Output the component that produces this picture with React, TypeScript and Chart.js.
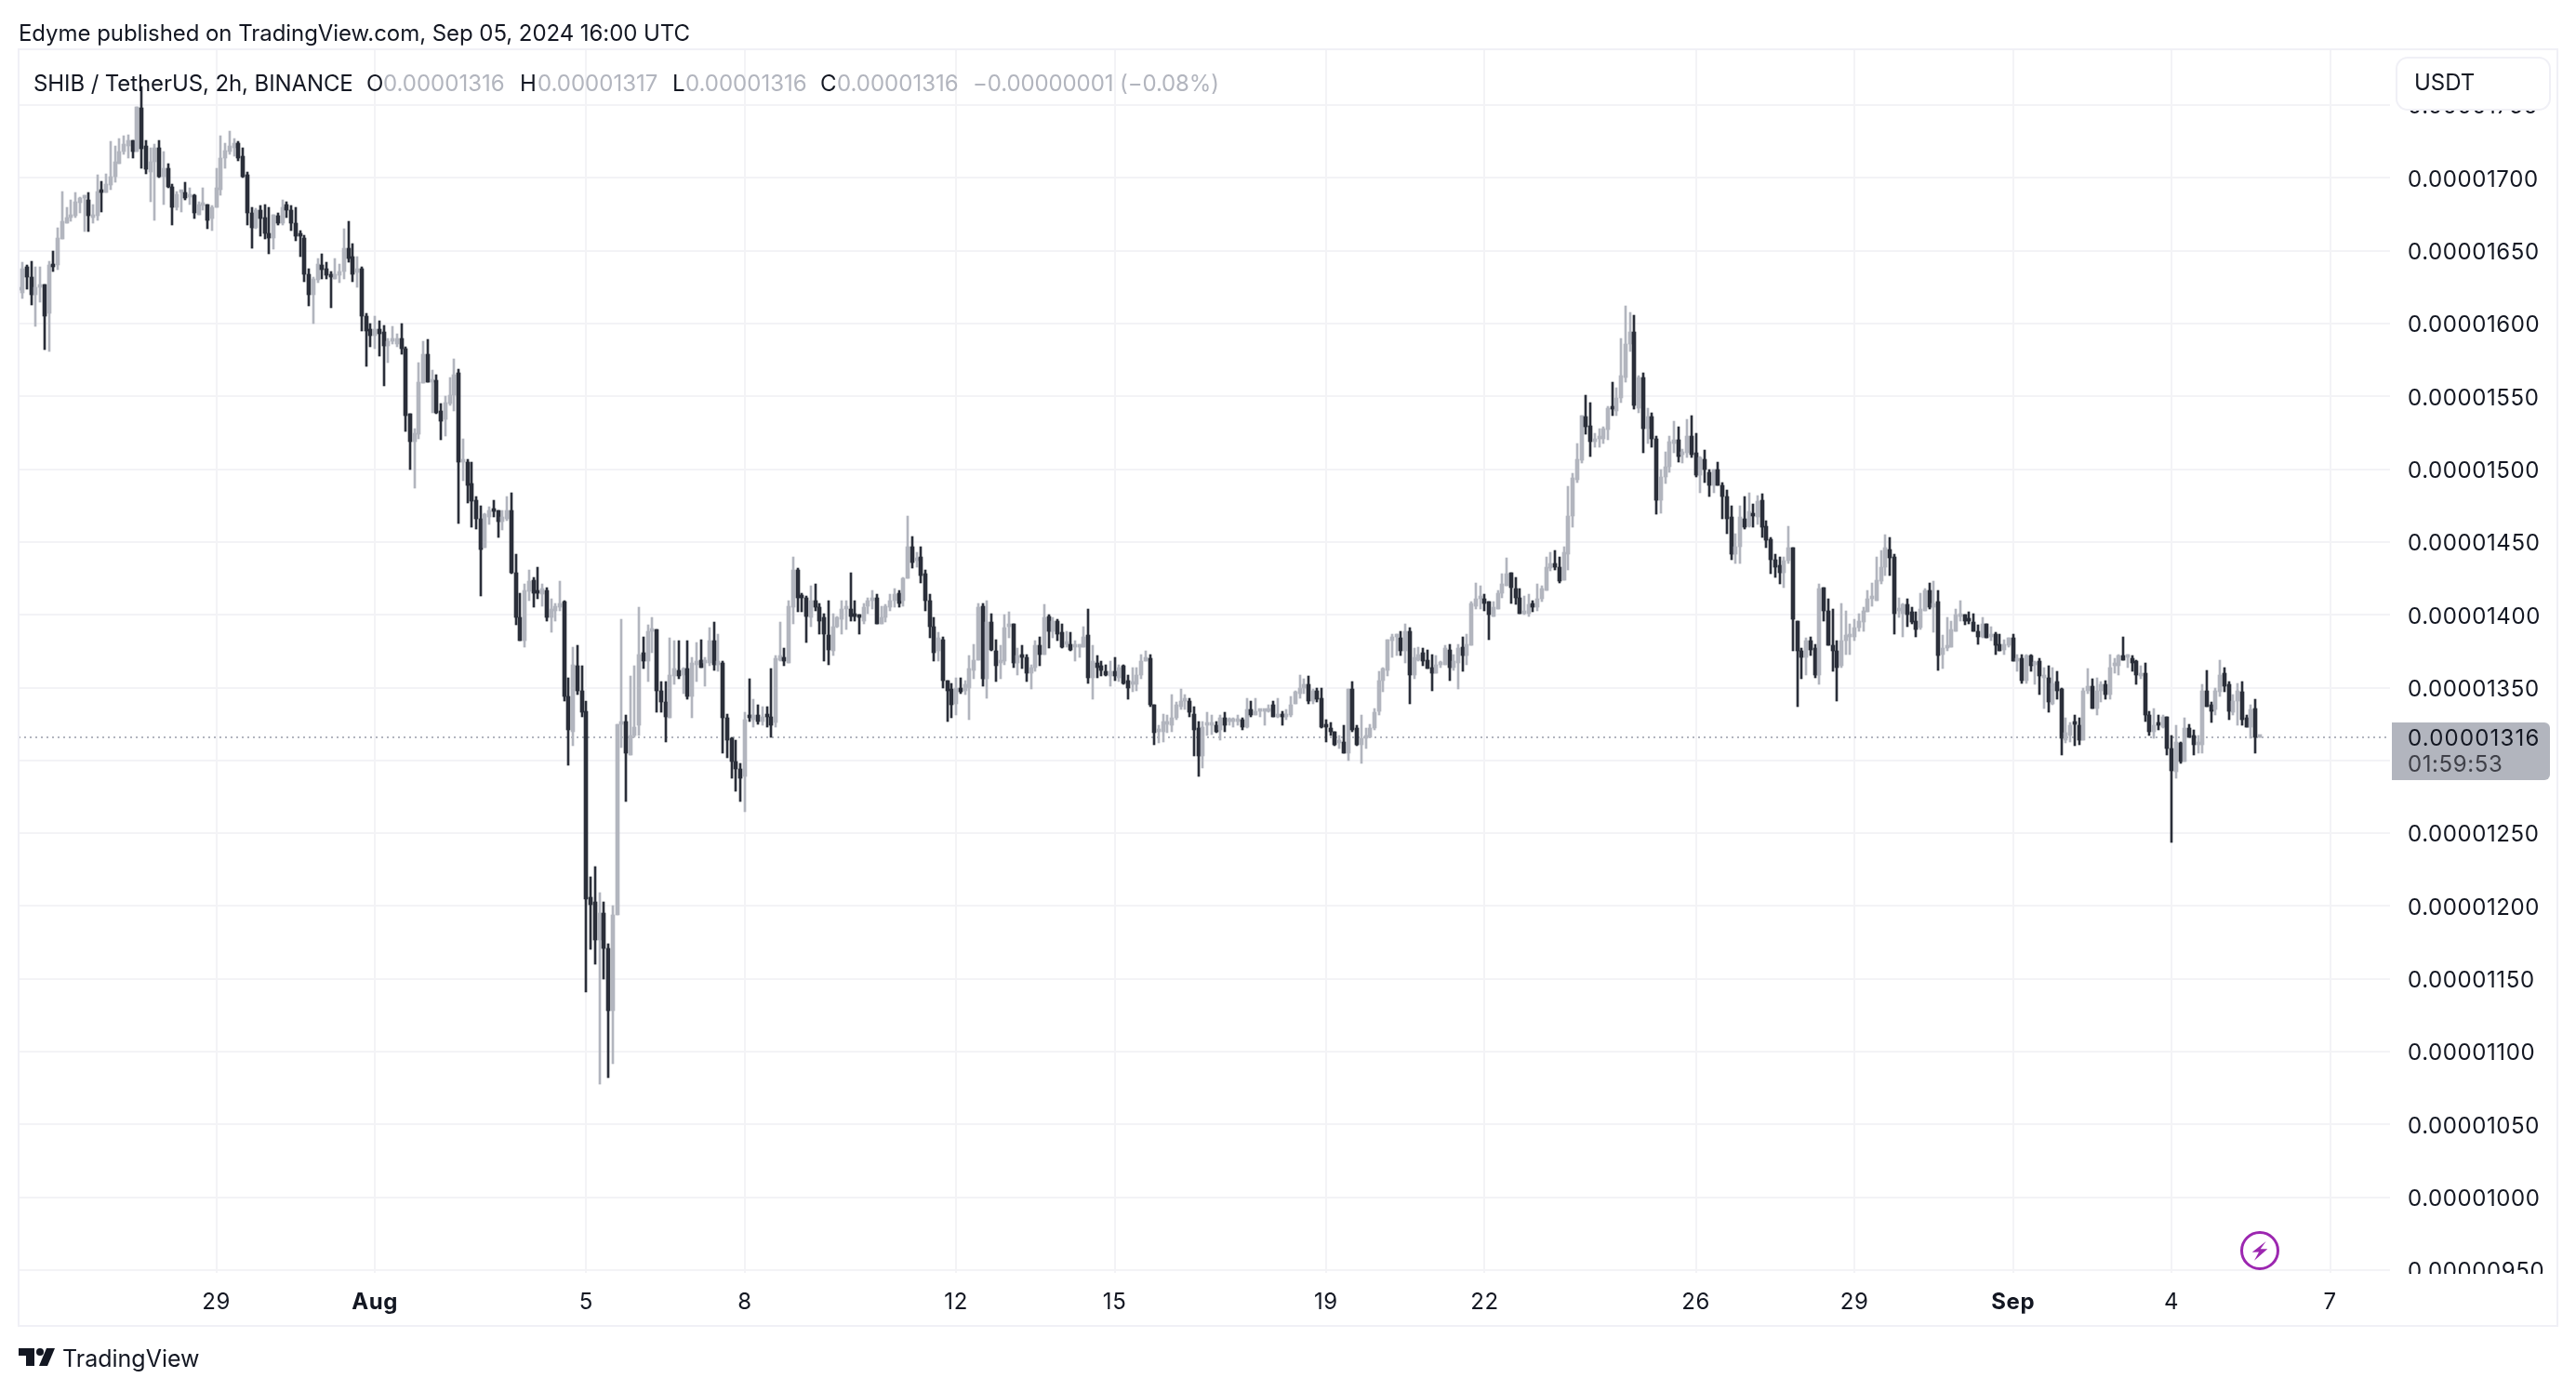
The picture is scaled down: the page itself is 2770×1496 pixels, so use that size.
import React, { useEffect, useRef } from "react";
import { Chart, registerables } from "chart.js";

Chart.register(...registerables);

// Prices are in units of 0.00000001 USDT; each candle is [open, high, low, close].
type Candle = [number, number, number, number];

const jul25to28: Candle[] = [
  [1623,1624,1623,1624],[1621,1642,1617,1638],[1639,1640,1624,1632],[1632,1643,1613,1620],[1620,1639,1598,1625],[1625,1639,1615,1626],
  [1627,1627,1582,1605],[1607,1643,1581,1640],[1641,1650,1636,1639],[1640,1666,1637,1659],[1658,1691,1658,1670],[1669,1680,1669,1673],
  [1673,1685,1670,1674],[1674,1690,1673,1684],[1683,1687,1676,1686],[1686,1688,1663,1686],[1685,1690,1663,1674],[1673,1682,1669,1675],
  [1674,1702,1671,1691],[1692,1698,1677,1690],[1690,1703,1690,1696],[1695,1725,1692,1701],[1701,1722,1697,1711],[1710,1727,1710,1718],
  [1718,1729,1716,1723],[1722,1730,1714,1726],[1726,1726,1714,1718],[1718,1749,1718,1749],[1748,1763,1707,1720],[1722,1726,1703,1706],
  [1704,1721,1684,1711],[1711,1723,1671,1721],[1721,1726,1700,1701],[1701,1718,1682,1707],[1707,1710,1693,1694],[1694,1696,1668,1680],
];
const jul28toAug1: Candle[] = [
  [1680,1691,1678,1689],[1690,1691,1677,1690],[1690,1697,1685,1686],[1687,1693,1682,1688],[1688,1689,1672,1676],[1675,1684,1675,1682],
  [1681,1693,1678,1682],[1682,1682,1665,1671],[1672,1681,1664,1680],[1680,1707,1680,1693],[1692,1729,1688,1714],[1714,1724,1707,1719],
  [1718,1732,1716,1722],[1721,1727,1715,1724],[1724,1725,1712,1714],[1715,1721,1700,1701],[1702,1704,1668,1676],[1676,1680,1652,1666],
  [1666,1679,1665,1678],[1678,1681,1660,1672],[1673,1682,1658,1662],[1662,1680,1648,1659],[1659,1675,1651,1675],[1674,1676,1668,1669],
  [1669,1685,1668,1680],[1682,1684,1673,1678],[1678,1681,1664,1669],[1669,1680,1657,1660],[1661,1664,1646,1660],[1659,1661,1629,1634],
  [1634,1638,1612,1620],[1620,1632,1600,1631],[1630,1645,1628,1641],[1640,1648,1631,1637],[1638,1642,1631,1633],[1633,1636,1611,1632],
  [1631,1645,1631,1634],[1633,1641,1628,1636],[1636,1665,1631,1652],[1652,1670,1642,1645],[1646,1655,1629,1634],[1635,1646,1625,1638],
  [1638,1639,1595,1605],[1605,1607,1571,1595],[1596,1600,1584,1592],
];
const aug1to5: Candle[] = [
  [1592,1605,1583,1596],[1596,1602,1578,1593],[1594,1599,1557,1585],[1585,1590,1573,1588],[1588,1598,1586,1589],[1586,1593,1584,1590],
  [1590,1600,1579,1583],[1583,1584,1526,1537],[1538,1538,1500,1519],[1519,1528,1487,1525],[1524,1573,1521,1560],[1559,1588,1559,1579],
  [1579,1589,1560,1560],[1560,1568,1539,1561],[1561,1565,1538,1539],[1540,1545,1520,1533],[1534,1550,1523,1546],[1545,1563,1544,1551],
  [1551,1576,1540,1565],[1566,1569,1463,1505],[1505,1521,1492,1506],[1505,1507,1477,1489],[1490,1505,1460,1478],[1479,1481,1459,1466],
  [1466,1475,1413,1445],[1446,1470,1446,1469],[1467,1474,1462,1472],[1472,1479,1467,1471],[1472,1472,1453,1464],[1464,1472,1458,1467],
  [1466,1481,1465,1472],[1472,1484,1428,1429],[1429,1442,1393,1398],[1398,1415,1382,1382],[1382,1421,1378,1417],[1416,1431,1410,1423],
  [1424,1426,1405,1415],[1416,1433,1411,1415],[1414,1421,1406,1418],[1417,1419,1396,1398],[1398,1411,1388,1404],[1403,1408,1396,1406],
  [1405,1423,1403,1408],[1409,1410,1341,1344],[1344,1357,1297,1321],[1320,1378,1310,1366],[1365,1379,1345,1348],[1348,1365,1330,1333],
];
const aug5to8: Candle[] = [
  [1334,1341,1141,1205],[1206,1220,1170,1201],[1203,1227,1160,1177],[1177,1209,1078,1195],[1195,1203,1150,1171],[1171,1174,1082,1128],
  [1128,1200,1092,1194],[1194,1325,1194,1325],[1325,1397,1309,1327],[1327,1331,1272,1305],[1304,1358,1304,1317],[1317,1365,1316,1323],
  [1324,1405,1317,1373],[1374,1385,1363,1368],[1368,1393,1354,1389],[1389,1398,1374,1390],[1390,1390,1333,1348],[1348,1354,1333,1340],
  [1340,1354,1313,1330],[1329,1384,1329,1359],[1358,1382,1352,1363],[1362,1382,1356,1358],[1359,1364,1346,1363],[1363,1382,1342,1344],
  [1344,1371,1329,1367],[1366,1381,1354,1368],[1369,1383,1364,1364],[1367,1371,1351,1368],[1367,1391,1365,1382],[1382,1395,1362,1366],
  [1366,1387,1361,1368],[1367,1368,1305,1329],[1329,1332,1302,1314],[1315,1316,1288,1299],[1299,1314,1279,1294],[1294,1298,1272,1288],
  [1289,1333,1265,1328],
];
const aug8to12: Candle[] = [
  [1331,1356,1327,1329],[1328,1342,1323,1331],[1331,1338,1325,1327],[1327,1337,1324,1330],[1331,1337,1323,1330],[1330,1363,1316,1324],
  [1326,1372,1323,1370],[1369,1395,1368,1372],[1371,1377,1365,1368],[1367,1410,1367,1406],[1405,1440,1394,1431],[1431,1432,1402,1412],
  [1413,1415,1402,1412],[1412,1413,1381,1399],[1398,1420,1392,1410],[1410,1421,1403,1405],[1405,1408,1387,1396],[1398,1401,1368,1387],
  [1386,1410,1366,1376],[1375,1401,1372,1392],[1392,1399,1391,1398],[1397,1410,1387,1404],[1404,1410,1390,1404],[1404,1429,1396,1399],
  [1400,1410,1396,1399],[1399,1400,1387,1398],[1396,1408,1394,1405],[1406,1412,1401,1410],[1410,1417,1404,1412],[1412,1414,1394,1394],
  [1394,1406,1394,1398],[1398,1407,1395,1406],[1405,1414,1403,1410],[1410,1418,1405,1414],[1415,1417,1405,1408],[1410,1426,1406,1425],
  [1425,1468,1425,1447],[1447,1454,1432,1436],[1437,1443,1433,1439],[1440,1447,1422,1427],[1428,1431,1403,1410],[1410,1414,1384,1392],
  [1392,1398,1368,1374],[1375,1388,1368,1384],[1383,1385,1350,1355],[1355,1355,1327,1348],[1349,1353,1329,1338],
];
const aug12to15: Candle[] = [
  [1339,1357,1331,1350],[1350,1357,1346,1347],[1348,1355,1345,1352],[1350,1372,1328,1363],[1362,1380,1356,1369],[1369,1408,1369,1405],
  [1406,1408,1351,1356],[1356,1410,1343,1395],[1395,1401,1375,1376],[1375,1383,1354,1365],[1367,1379,1356,1368],[1368,1400,1366,1391],
  [1392,1402,1384,1393],[1394,1394,1364,1367],[1367,1377,1359,1372],[1372,1379,1363,1371],[1371,1373,1354,1360],[1360,1366,1349,1364],
  [1364,1382,1361,1379],[1379,1385,1365,1373],[1373,1407,1373,1398],[1399,1400,1377,1389],[1389,1398,1384,1396],[1396,1397,1382,1387],
  [1388,1394,1377,1378],[1380,1389,1378,1381],[1380,1388,1375,1376],[1378,1382,1368,1379],[1378,1380,1371,1379],[1378,1392,1378,1385],
  [1386,1404,1353,1357],[1357,1379,1342,1368],[1367,1372,1357,1364],[1365,1368,1358,1362],[1361,1366,1358,1359],[1358,1368,1351,1361],
];
const aug15to19: Candle[] = [
  [1361,1371,1355,1358],[1357,1366,1354,1364],[1365,1366,1352,1353],[1355,1359,1342,1350],[1352,1364,1347,1353],[1352,1364,1348,1359],
  [1359,1373,1356,1368],[1368,1375,1368,1371],[1370,1373,1337,1338],[1338,1338,1311,1319],[1320,1324,1312,1321],[1320,1332,1313,1327],
  [1325,1331,1319,1326],[1324,1345,1320,1329],[1329,1340,1328,1338],[1337,1349,1335,1341],[1341,1345,1335,1342],[1341,1343,1330,1333],
  [1332,1337,1303,1321],[1322,1327,1289,1303],[1303,1327,1295,1323],[1324,1333,1317,1325],[1324,1331,1318,1325],[1324,1327,1319,1320],
  [1321,1331,1314,1329],[1329,1333,1320,1324],[1327,1329,1324,1328],[1327,1329,1323,1328],[1327,1331,1324,1328],[1328,1329,1321,1323],
  [1323,1343,1322,1335],[1335,1341,1330,1331],[1331,1343,1331,1334],[1334,1335,1330,1335],[1334,1335,1324,1335],[1334,1338,1333,1336],
  [1338,1341,1330,1330],[1330,1343,1329,1332],[1331,1334,1324,1330],[1330,1335,1328,1331],[1331,1344,1330,1338],[1339,1348,1339,1347],
  [1346,1359,1343,1350],[1350,1356,1346,1352],[1352,1358,1339,1341],[1341,1349,1339,1348],[1348,1350,1340,1342],[1343,1350,1322,1323],
];
const aug19to22: Candle[] = [
  [1324,1328,1313,1323],[1322,1326,1317,1320],[1320,1320,1310,1311],[1312,1317,1308,1313],[1313,1324,1305,1305],[1305,1349,1300,1349],
  [1349,1354,1320,1321],[1322,1324,1310,1311],[1311,1331,1298,1315],[1315,1322,1308,1316],[1316,1325,1316,1322],[1322,1336,1321,1333],
  [1334,1361,1331,1355],[1355,1364,1347,1363],[1362,1383,1358,1383],[1382,1387,1371,1385],[1385,1387,1372,1386],[1384,1389,1372,1375],
  [1375,1394,1367,1389],[1389,1391,1339,1359],[1359,1377,1356,1371],[1369,1378,1368,1373],[1374,1377,1365,1368],[1369,1376,1363,1363],
  [1364,1373,1348,1360],[1360,1372,1360,1366],[1366,1368,1364,1367],[1366,1379,1366,1377],[1376,1380,1355,1364],[1364,1373,1362,1368],
  [1367,1380,1349,1377],[1378,1385,1361,1372],[1372,1387,1366,1380],[1379,1409,1379,1408],[1406,1422,1404,1411],[1411,1420,1404,1413],
];
const aug22to26: Candle[] = [
  [1411,1414,1403,1408],[1409,1409,1383,1400],[1399,1409,1399,1405],[1404,1417,1404,1415],[1415,1428,1412,1421],[1420,1439,1420,1428],
  [1429,1429,1408,1419],[1418,1426,1407,1412],[1412,1418,1401,1401],[1401,1413,1400,1402],[1401,1414,1399,1407],[1408,1410,1402,1405],
  [1405,1421,1403,1411],[1411,1420,1409,1418],[1417,1440,1417,1433],[1432,1443,1430,1435],[1435,1444,1431,1433],[1433,1440,1422,1423],
  [1424,1447,1424,1443],[1442,1488,1431,1468],[1468,1497,1460,1494],[1493,1518,1491,1507],[1506,1537,1504,1537],[1536,1551,1524,1529],
  [1530,1546,1509,1519],[1519,1525,1515,1521],[1521,1528,1515,1522],[1521,1529,1518,1528],[1527,1543,1520,1542],[1543,1560,1537,1541],
  [1540,1556,1537,1549],[1549,1590,1546,1564],[1563,1612,1560,1586],[1586,1608,1581,1594],[1594,1606,1541,1544],[1542,1564,1539,1563],
  [1563,1566,1511,1528],[1528,1542,1518,1536],[1536,1539,1515,1521],[1521,1523,1469,1479],[1479,1500,1470,1495],[1495,1512,1490,1502],
  [1502,1523,1498,1519],[1518,1533,1511,1520],[1520,1529,1505,1509],[1510,1514,1504,1511],[1511,1534,1508,1523],[1523,1537,1508,1510],
];
const aug26to29: Candle[] = [
  [1511,1525,1495,1496],[1496,1509,1484,1508],[1507,1513,1491,1500],[1498,1500,1481,1489],[1489,1500,1484,1500],[1500,1505,1489,1489],
  [1489,1491,1466,1481],[1481,1486,1456,1466],[1467,1475,1438,1442],[1442,1456,1435,1447],[1447,1475,1435,1467],[1466,1481,1459,1460],
  [1461,1484,1460,1471],[1470,1476,1460,1468],[1467,1482,1462,1478],[1479,1483,1453,1460],[1461,1465,1446,1451],[1452,1453,1428,1438],
  [1438,1442,1426,1433],[1434,1440,1421,1429],[1429,1440,1419,1437],[1437,1461,1435,1446],[1446,1446,1375,1397],[1396,1396,1337,1375],
  [1375,1377,1356,1371],[1371,1384,1359,1382],[1382,1385,1372,1376],[1377,1380,1357,1359],[1359,1421,1352,1418],[1419,1419,1396,1403],
  [1403,1411,1379,1379],[1379,1404,1361,1375],[1375,1382,1341,1364],[1365,1408,1364,1382],[1382,1403,1373,1386],[1385,1394,1373,1386],
];
const aug29toSep1: Candle[] = [
  [1385,1397,1382,1391],[1391,1401,1389,1396],[1395,1405,1389,1403],[1402,1417,1402,1411],[1411,1422,1406,1413],[1410,1440,1410,1424],
  [1423,1444,1421,1433],[1433,1455,1427,1446],[1445,1453,1427,1439],[1440,1442,1387,1401],[1403,1412,1398,1404],[1401,1408,1385,1407],
  [1407,1411,1392,1400],[1402,1405,1394,1395],[1396,1402,1385,1390],[1391,1415,1390,1404],[1403,1418,1403,1417],[1417,1422,1404,1405],
  [1405,1423,1388,1408],[1409,1417,1362,1372],[1373,1386,1363,1377],[1377,1398,1375,1379],[1378,1396,1378,1390],[1389,1404,1389,1400],
  [1399,1410,1396,1400],[1400,1400,1393,1396],[1397,1402,1394,1396],[1395,1401,1389,1389],[1389,1393,1380,1385],[1385,1398,1384,1394],
  [1394,1394,1384,1384],[1385,1392,1382,1386],[1387,1388,1373,1379],[1380,1387,1375,1375],[1376,1383,1373,1380],[1379,1384,1378,1384],
];
const sep1to5: Candle[] = [
  [1384,1387,1368,1368],[1368,1373,1361,1369],[1370,1373,1353,1355],[1355,1373,1353,1372],[1372,1373,1361,1365],[1366,1368,1352,1367],
  [1368,1370,1345,1358],[1357,1364,1336,1358],[1357,1365,1333,1340],[1339,1364,1338,1353],[1354,1361,1342,1348],[1349,1350,1304,1315],
  [1314,1329,1312,1319],[1317,1326,1313,1324],[1326,1331,1310,1325],[1324,1329,1311,1314],[1314,1350,1314,1348],[1348,1363,1346,1351],
  [1351,1356,1336,1336],[1336,1357,1331,1348],[1348,1354,1340,1352],[1352,1355,1342,1345],[1345,1373,1342,1364],[1365,1370,1360,1367],
  [1365,1373,1359,1372],[1372,1385,1369,1369],[1371,1373,1364,1372],[1370,1372,1361,1367],[1368,1369,1352,1359],[1358,1365,1356,1360],
  [1360,1367,1327,1331],[1331,1334,1317,1320],[1320,1336,1315,1324],[1325,1331,1321,1324],[1323,1331,1322,1330],[1330,1330,1304,1308],
  [1308,1317,1244,1293],[1292,1324,1288,1313],[1312,1313,1298,1299],[1299,1329,1299,1322],[1322,1325,1316,1316],[1317,1321,1304,1311],
  [1311,1317,1305,1312],[1311,1352,1305,1348],[1348,1362,1337,1337],[1338,1340,1326,1334],[1335,1350,1331,1348],[1347,1369,1344,1359],
  [1360,1364,1347,1351],[1352,1354,1328,1334],[1333,1345,1331,1341],[1341,1353,1324,1348],[1347,1354,1324,1328],[1329,1331,1323,1323],
  [1323,1338,1315,1335],[1336,1342,1305,1316],[1316,1317,1316,1316],
];

const candles: Candle[] = [
  ...jul25to28, ...jul28toAug1, ...aug1to5, ...aug5to8, ...aug8to12, ...aug12to15,
  ...aug15to19, ...aug19to22, ...aug22to26, ...aug26to29, ...aug29toSep1, ...sep1to5,
];

// Bar index (2h bars from the first candle) at which each date label sits.
const dateTickIndex = [45, 81, 129, 165, 213, 249, 297, 333, 381, 417, 453, 489, 525];
const dateTickLabels = ["29", "Aug", "5", "8", "12", "15", "19", "22", "26", "29", "Sep", "4", "7"];
const boldDateLabels = ["Aug", "Sep"];
const priceTicks = [950, 1000, 1050, 1100, 1150, 1200, 1250, 1300, 1350, 1400, 1450, 1500, 1550, 1600, 1650, 1700, 1750];
const lastPrice = 1316;
const countdown = "01:59:53";

const UP = "#b2b5be";
const DOWN = "#2a2e39";
const GRID = "#f3f3f6";
const FRAME = "#f0f0f6";
const TEXT = "#131722";
const FONT = "Inter, 'Noto Sans', sans-serif";

const fmt = (v: number) => (v / 1e8).toFixed(8);

const barColors = candles.map((c) => (c[3] >= c[0] ? UP : DOWN));

const snapBars = {
  id: "snapBars",
  afterDatasetsUpdate(chart: any) {
    chart.data.datasets.forEach((_: any, i: number) => {
      chart.getDatasetMeta(i).data.forEach((el: any) => {
        el.x = Math.round(el.x);
        el.y = Math.round(el.y);
        el.base = Math.round(el.base);
      });
    });
  },
};

const priceLine = {
  id: "priceLine",
  beforeDraw(chart: any) {
    chart.ctx.letterSpacing = "0.6px";
  },
  beforeDatasetsDraw(chart: any) {
    const { ctx, chartArea, scales } = chart;
    const y = Math.round(scales.y.getPixelForValue(lastPrice));
    ctx.save();
    ctx.strokeStyle = UP;
    ctx.lineWidth = 2;
    ctx.setLineDash([2, 4]);
    ctx.beginPath();
    ctx.moveTo(chartArea.left, y);
    ctx.lineTo(chartArea.right, y);
    ctx.stroke();
    ctx.restore();
  },
  afterDraw(chart: any) {
    const { ctx, scales } = chart;
    const y = Math.round(scales.y.getPixelForValue(lastPrice));
    ctx.save();
    // clip the cut-off lowest axis label
    ctx.fillStyle = "#ffffff";
    ctx.fillRect(2572, 1370, 176, 54);
    // frame
    ctx.strokeStyle = FRAME;
    ctx.lineWidth = 2;
    ctx.strokeRect(20, 53, 2730, 1373);
    // currency box
    ctx.fillStyle = "#ffffff";
    ctx.beginPath();
    ctx.roundRect(2577, 62, 165, 56, 12);
    ctx.fill();
    ctx.stroke();
    // last price tag
    ctx.fillStyle = UP;
    ctx.beginPath();
    ctx.roundRect(2572, y - 16, 170, 62, [0, 6, 6, 0]);
    ctx.fill();
    ctx.textBaseline = "middle";
    ctx.textAlign = "left";
    ctx.font = `24px ${FONT}`;
    ctx.fillStyle = TEXT;
    ctx.letterSpacing = "1.2px";
    ctx.fillText(fmt(lastPrice), 2589, y + 2);
    ctx.letterSpacing = "0.6px";
    ctx.fillStyle = "#3f4048";
    ctx.fillText(countdown, 2589, y + 30);
    ctx.restore();
  },
};

const abs = (left: number, top: number, extra: React.CSSProperties = {}): React.CSSProperties => ({
  position: "absolute",
  left,
  top,
  whiteSpace: "nowrap",
  fontFamily: FONT,
  color: TEXT,
  fontSize: 24,
  lineHeight: "30px",
  ...extra,
});

const legendItems: [number, string, string][] = [
  [394, "O", TEXT],
  [412, "0.00001316", UP],
  [559, "H", TEXT],
  [578, "0.00001317", UP],
  [723, "L", TEXT],
  [737, "0.00001316", UP],
  [882, "C", TEXT],
  [900, "0.00001316", UP],
  [1046, "\u22120.00000001 (\u22120.08%)", UP],
];

export default function App() {
  const ref = useRef<HTMLCanvasElement>(null);
  useEffect(() => {
    const chart = new Chart(ref.current as HTMLCanvasElement, {
      type: "bar",
      data: {
        datasets: [
          {
            label: "Body",
            data: candles.map((c, i) => ({ x: i, y: [Math.min(c[0], c[3]), Math.max(c[0], c[3])] })),
            backgroundColor: barColors,
            barThickness: 4,
            minBarLength: 3,
            grouped: false,
          },
          {
            label: "Wick",
            data: candles.map((c, i) => ({ x: i, y: [c[2], c[1]] })),
            backgroundColor: barColors,
            barThickness: 2,
            grouped: false,
          },
        ] as any,
      },
      options: {
        responsive: false,
        animation: false,
        layout: { padding: { left: 20, top: 54, right: 20, bottom: 70 } },
        plugins: { legend: { display: false }, tooltip: { enabled: false }, title: { display: false } },
        scales: {
          x: {
            type: "linear",
            min: 0.1,
            max: 538.6,
            offset: false,
            grid: { color: GRID, lineWidth: 2, offset: false, tickLength: 3, tickColor: GRID },
            border: { display: false },
            afterBuildTicks: (s: any) => {
              s.ticks = dateTickIndex.map((value) => ({ value }));
            },
            afterFit: (s: any) => {
              s.height = 60;
            },
            ticks: {
              autoSkip: false,
              maxRotation: 0,
              minRotation: 0,
              padding: 17,
              color: TEXT,
              callback: (v: any) => dateTickLabels[dateTickIndex.indexOf(Number(v))],
              font: (ctx: any) => {
                const idx = dateTickIndex.indexOf(ctx.tick?.value);
                return {
                  family: FONT,
                  size: 24,
                  weight: boldDateLabels.includes(dateTickLabels[idx]) ? "bold" : "normal",
                };
              },
            },
          },
          y: {
            type: "linear",
            position: "right",
            min: 950,
            max: 1787.8,
            grid: { color: GRID, lineWidth: 2, drawTicks: false },
            border: { display: false },
            afterBuildTicks: (s: any) => {
              s.ticks = priceTicks.map((value) => ({ value }));
            },
            afterFit: (s: any) => {
              s.width = 180;
            },
            ticks: {
              autoSkip: false,
              padding: 19,
              color: TEXT,
              // a blank first line at a 4px line height nudges the label down 2px
              font: { family: FONT, size: 24, lineHeight: "4px" },
              callback: (v: any) => ["", fmt(Number(v))],
            },
          },
        },
      } as any,
      plugins: [snapBars, priceLine],
    });
    return () => chart.destroy();
  }, []);

  return (
    <div style={{ position: "absolute", left: 0, top: 0, width: 2770, height: 1496, overflow: "hidden", background: "#fff" }}>
      <canvas ref={ref} width={2770} height={1496} style={{ display: "block", width: 2770, height: 1496 }} />
      <div style={abs(20, 21, { letterSpacing: "-0.06px" })}>Edyme published on TradingView.com, Sep 05, 2024 16:00 UTC</div>
      <div style={abs(36, 75, { letterSpacing: "-0.1px" })}>SHIB / TetherUS, 2h, BINANCE</div>
      {legendItems.map(([x, t, c], i) => (
        <div key={i} style={abs(x, 75, { color: c, letterSpacing: i === 8 ? "-0.1px" : undefined })}>{t}</div>
      ))}
      <div style={abs(2596, 74)}>USDT</div>
      <svg width={2770} height={1496} style={{ position: "absolute", left: 0, top: 0, pointerEvents: "none" }}>
        <circle cx={2430} cy={1345} r={19.5} fill="none" stroke="#9c27b0" strokeWidth={3} />
        <polygon points="2436.7,1335 2421.7,1346.7 2429,1346.5 2424,1355.7 2438.3,1343.3 2430.7,1343.3" fill="#9c27b0" />
        <path d="M20 1450 H37 V1469 H28 V1458 H20 Z" fill={TEXT} />
        <circle cx={43} cy={1454} r={4} fill={TEXT} />
        <path d="M50 1450 H59 L51 1469 H42 Z" fill={TEXT} />
      </svg>
      <div style={abs(67, 1446, { fontSize: 25 })}>TradingView</div>
    </div>
  );
}
